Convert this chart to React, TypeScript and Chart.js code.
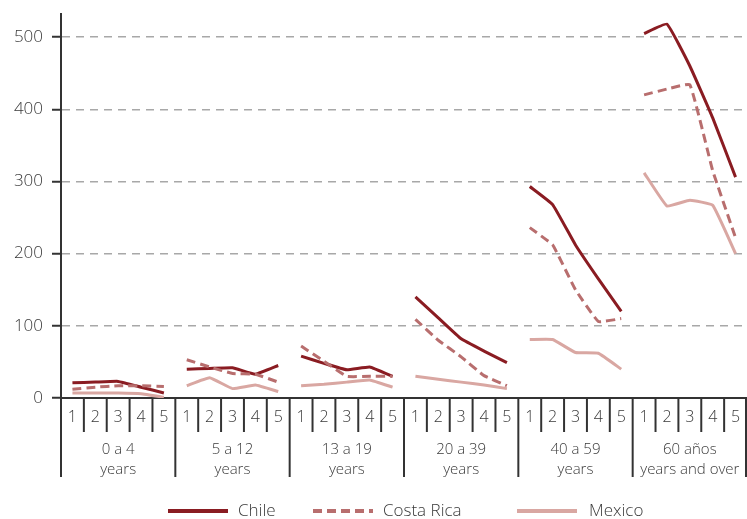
import React, { useEffect, useRef } from "react";
import { Chart, registerables } from "chart.js";

Chart.register(...registerables);

const groups: string[][] = [
  ["0 a 4", "years"],
  ["5 a 12", "years"],
  ["13 a 19", "years"],
  ["20 a 39", "years"],
  ["40 a 59", "years"],
  ["60 años", "years and over"],
];
const quintiles = ["1", "2", "3", "4", "5"];
const yTicks = [0, 100, 200, 300, 400, 500];

const chile = [21, 22, 23, 15, 7, 40, 41, 42, 33, 45, 58, 48, 39, 43, 30, 140, 111, 82, 65, 49, 293, 268, 212, 165, 120, 505, 518, 460, 388, 306];
const costaRica = [12, 15, 17, 17, 16, 53, 43, 34, 33, 22, 72, 51, 30, 30, 30, 109, 80, 57, 31, 17, 236, 212, 150, 106, 110, 420, 428, 434, 315, 222];
const mexico = [7, 7, 7, 6, 1, 17, 28, 13, 18, 9, 17, 19, 22, 25, 15, 30, 26, 22, 18, 13, 81, 81, 63, 62, 40, 312, 266, 274, 267, 200];

const seriesNames = ["Chile", "Costa Rica", "Mexico"];
const seriesData = [chile, costaRica, mexico];
const seriesColors = ["#8A1C22", "#B86E6E", "#D9A7A2"];
const seriesDash: number[][] = [[], [9, 5], []];

const FONT = "'Open Sans', 'DejaVu Sans', sans-serif";
const TEXT = "#3a3a3a";
const AXIS = "#333333";

const overlayPlugin = {
  id: "overlay",
  afterDraw(chart: any) {
    const { ctx, chartArea } = chart;
    const xs = chart.scales.x;
    const n = xs.getLabels().length;
    const slot = (chartArea.right - chartArea.left) / n;
    const base = chartArea.bottom;
    ctx.save();
    ctx.strokeStyle = AXIS;
    ctx.lineWidth = 2;
    for (let i = 0; i <= n; i++) {
      let x = chartArea.left + i * slot;
      if (i === n) x -= 1;
      const end = i % 5 === 0 ? base + 79 : base + 34;
      ctx.beginPath();
      ctx.moveTo(x, base);
      ctx.lineTo(x, end);
      ctx.stroke();
    }
    ctx.fillStyle = TEXT;
    ctx.font = `300 15px ${FONT}`;
    ctx.textAlign = "center";
    ctx.textBaseline = "middle";
    groups.forEach((g, gi) => {
      const cx = chartArea.left + (gi * 5 + 2.5) * slot;
      ctx.fillText(g[0], cx, base + 52);
      ctx.fillText(g[1], cx, base + 72);
    });
    // legend
    const legendPos = [
      [168, 238],
      [313, 383],
      [517, 589],
    ];
    const ly = 511;
    ctx.font = `300 17px ${FONT}`;
    ctx.textAlign = "left";
    seriesNames.forEach((name, i) => {
      const [lx, tx] = legendPos[i];
      ctx.strokeStyle = seriesColors[i];
      ctx.lineWidth = 4;
      ctx.setLineDash(seriesDash[i]);
      ctx.beginPath();
      ctx.moveTo(lx, ly);
      ctx.lineTo(lx + 60, ly);
      ctx.stroke();
      ctx.setLineDash([]);
      ctx.fillStyle = TEXT;
      ctx.fillText(name, tx, ly);
    });
    ctx.restore();
  },
};

export default function App() {
  const ref = useRef<HTMLCanvasElement>(null);
  useEffect(() => {
    if (!ref.current) return;
    const labels = groups.flatMap(() => quintiles);
    const datasets: any[] = [];
    seriesData.forEach((vals, si) => {
      groups.forEach((_, gi) => {
        const data = labels.map((_, i) => (Math.floor(i / 5) === gi ? vals[i] : null));
        datasets.push({
          label: seriesNames[si],
          data,
          borderColor: seriesColors[si],
          backgroundColor: seriesColors[si],
          borderWidth: 3,
          borderDash: seriesDash[si],
          pointRadius: 0,
          pointHoverRadius: 0,
          tension: 0.1,
          spanGaps: false,
          fill: false,
          order: 3 - si,
        });
      });
    });
    const chart = new Chart(ref.current, {
      type: "line",
      data: { labels, datasets },
      options: {
        responsive: false,
        animation: false,
        layout: { padding: { top: 14, left: 0, right: 0, bottom: 0 } },
        plugins: { legend: { display: false }, tooltip: { enabled: false } },
        scales: {
          x: {
            offset: true,
            grid: { display: false, drawTicks: false },
            border: { display: true, color: AXIS, width: 2 },
            ticks: { color: TEXT, font: { family: FONT, size: 16, weight: "300" as any }, padding: 10, maxRotation: 0, autoSkip: false },
            afterFit: (s: any) => {
              s.height = 121;
              s.paddingLeft = 0;
              s.paddingRight = 0;
            },
          },
          y: {
            min: 0,
            max: 532,
            afterBuildTicks: (s: any) => {
              s.ticks = yTicks.map((v) => ({ value: v }));
            },
            ticks: { color: TEXT, font: { family: FONT, size: 17, weight: "300" as any }, padding: 9 },
            grid: {
              color: (c: any) => (c.tick && c.tick.value === 0 ? "rgba(0,0,0,0)" : "#a8a8a8"),
              lineWidth: 1.5,
              tickColor: AXIS,
              tickWidth: 2,
              tickLength: 9,
              tickBorderDash: [],
            },
            border: { display: true, color: AXIS, width: 2, dash: [8, 6] },
            afterFit: (s: any) => {
              s.width = 61;
              s.paddingTop = 0;
              s.paddingBottom = 0;
            },
          },
        },
      },
      plugins: [overlayPlugin],
    });
    return () => chart.destroy();
  }, []);
  return (
    <div style={{ position: "fixed", left: 0, top: 0, width: 747, height: 519, background: "#fff" }}>
      <canvas ref={ref} width={747} height={519} />
    </div>
  );
}
